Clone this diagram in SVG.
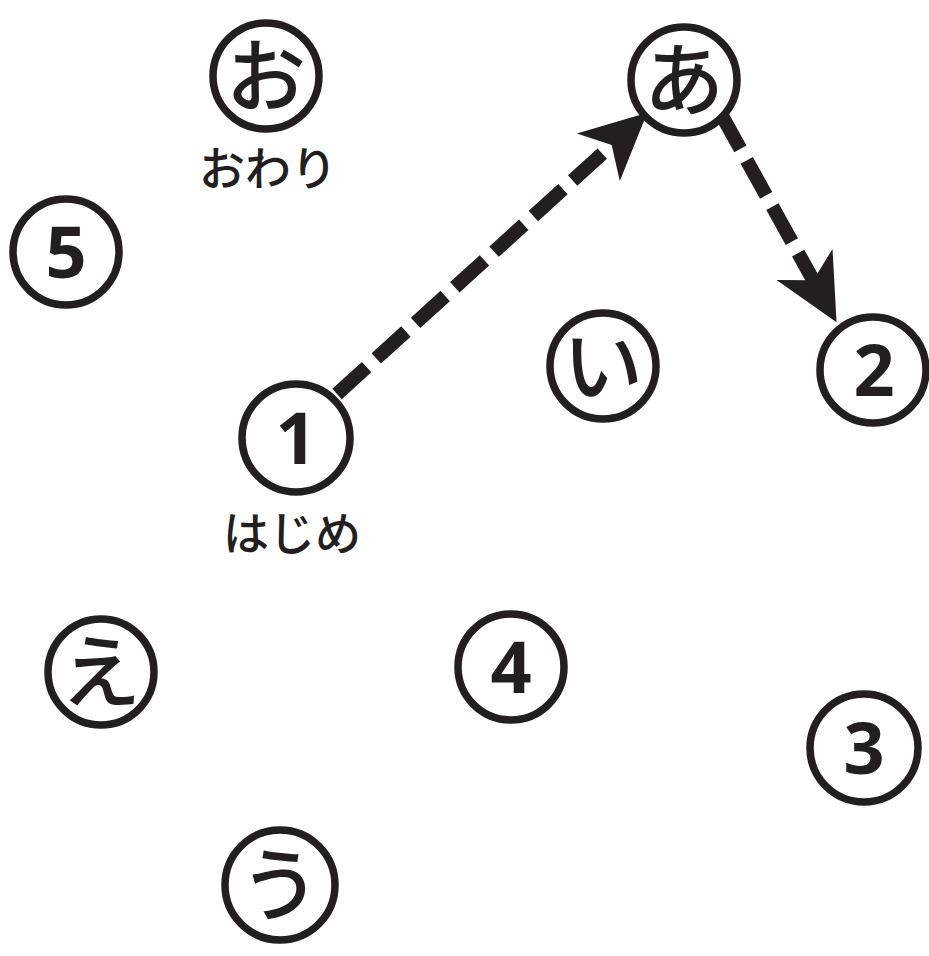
<svg xmlns="http://www.w3.org/2000/svg" width="929" height="956" viewBox="0 0 929 956">
<style>
.ring{fill:#fff;stroke:#231f20;stroke-width:7.5}
.kana{font-family:"Noto Sans CJK JP",sans-serif;font-weight:500;font-size:80px;fill:#231f20;text-anchor:middle}
.num{font-family:"Open Sans","Liberation Sans",sans-serif;font-weight:700;font-size:72px;fill:#231f20;text-anchor:middle}
.lbl{font-family:"Noto Sans CJK JP",sans-serif;font-weight:500;font-size:46px;fill:#231f20;text-anchor:middle}
.edge{fill:none;stroke:#231f20;stroke-width:14;stroke-dasharray:40 13}
</style>
<defs>
<marker id="ah" markerUnits="userSpaceOnUse" markerWidth="80" markerHeight="80" viewBox="-70 -40 80 80" refX="-30" refY="0" orient="auto" overflow="visible">
<path d="M0,0 L-66,-32 L-48,0 L-66,32 Z" fill="#231f20"/>
</marker>
</defs>
<g id="connectors">
<path class="edge" d="M337,394 L625,133" marker-end="url(#ah)"/>
<path class="edge" d="M721,114 L822,296" marker-end="url(#ah)"/>
</g>
<g id="node-o"><circle class="ring" cx="266" cy="76" r="53"/><text class="kana" x="266" y="105">お</text><text class="lbl" x="268" y="185">おわり</text></g>
<g id="node-a"><circle class="ring" cx="684" cy="80" r="53"/><text class="kana" x="684" y="109">あ</text></g>
<g id="node-5"><circle class="ring" cx="66" cy="252" r="53"/><text class="num" x="66" y="278">5</text></g>
<g id="node-i"><circle class="ring" cx="603" cy="366" r="53"/><text class="kana" x="603" y="395">い</text></g>
<g id="node-2"><circle class="ring" cx="873" cy="370" r="53"/><text class="num" x="874" y="396">2</text></g>
<g id="node-1"><circle class="ring" cx="296" cy="438" r="54"/><text class="num" x="296" y="464">1</text><text class="lbl" x="292" y="550">はじめ</text></g>
<g id="node-e"><circle class="ring" cx="101" cy="672" r="53"/><text class="kana" x="101" y="701">え</text></g>
<g id="node-4"><circle class="ring" cx="511" cy="667" r="53"/><text class="num" x="511" y="693">4</text></g>
<g id="node-3"><circle class="ring" cx="864" cy="748" r="54"/><text class="num" x="864" y="774">3</text></g>
<g id="node-u"><circle class="ring" cx="280" cy="885" r="55"/><text class="kana" x="280" y="914">う</text></g>
</svg>
